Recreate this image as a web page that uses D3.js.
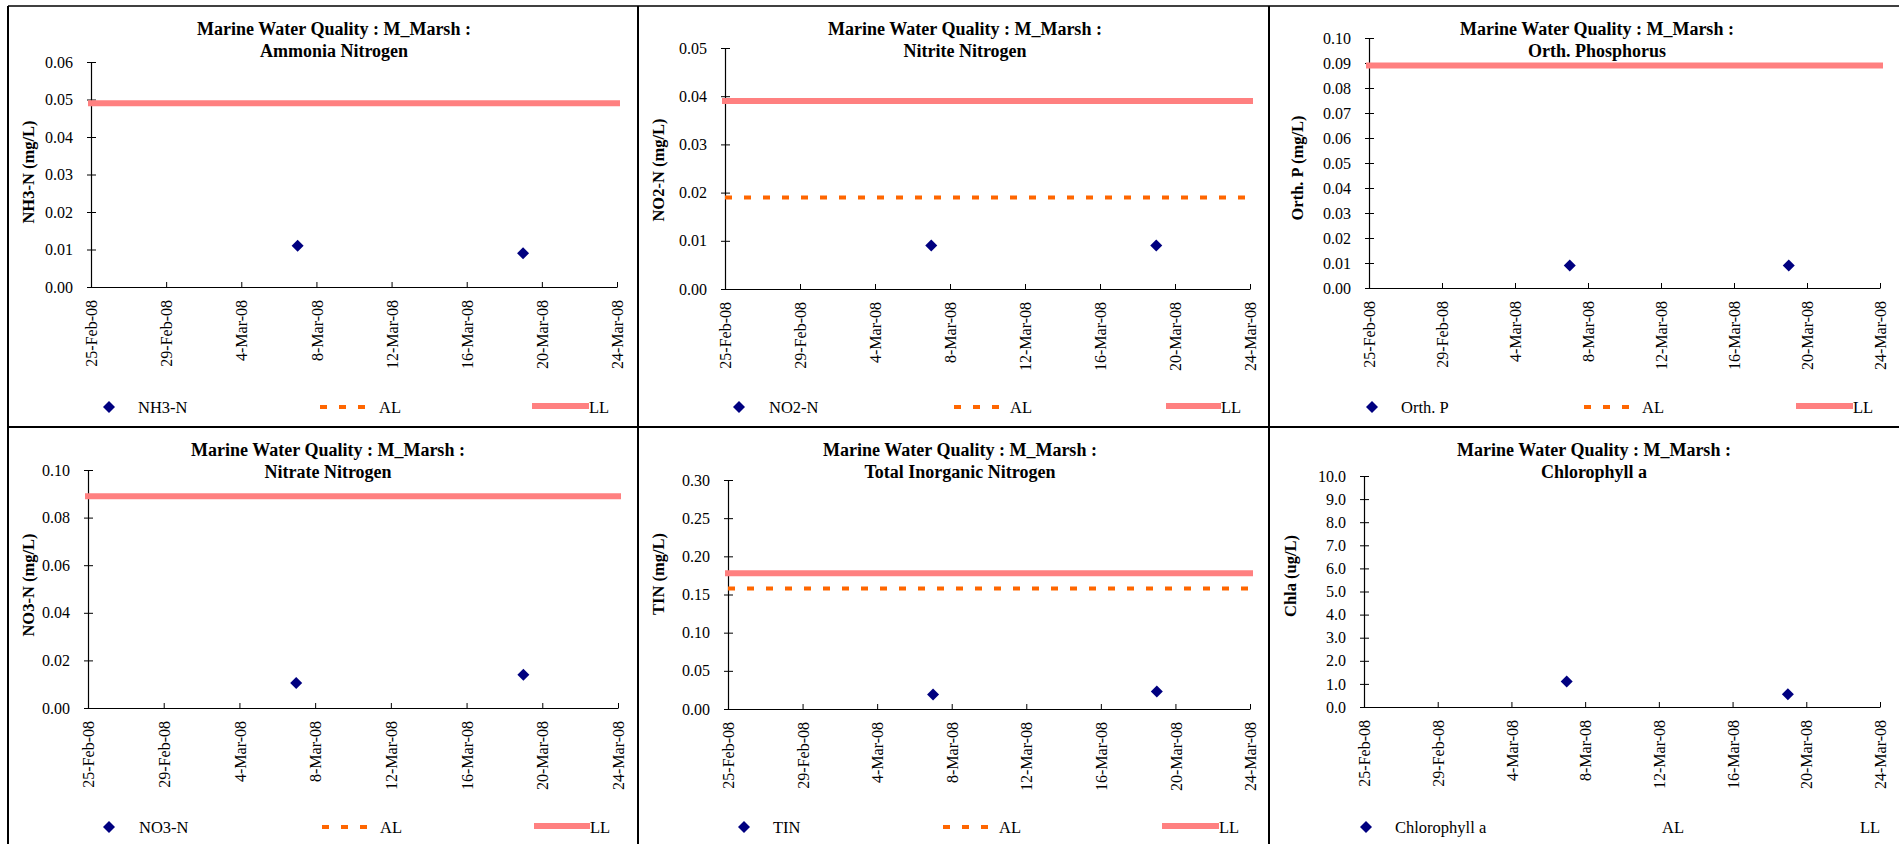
<!DOCTYPE html>
<html lang="en">
<head>
    <meta charset="UTF-8">
    <title>Marine Water Quality : M_Marsh</title>
    <script src="https://cdn.jsdelivr.net/npm/d3@7/dist/d3.min.js"></script>
    <style>
        body { margin: 0; background: #fff; }
        svg { display: block; }
        text { font-family: "Liberation Serif", "Times New Roman", serif; fill: #000; }
    </style>
</head>
<body>
    <svg width="1899" height="844" id="mainsvg"></svg>
    <script>
        // data
        const sampleDates = ["2008-03-07", "2008-03-19"]
        const tickDates = ["2008-02-25", "2008-02-29", "2008-03-04", "2008-03-08",
                           "2008-03-12", "2008-03-16", "2008-03-20", "2008-03-24"]
        const nh3Values = [0.011, 0.009]
        const no2Values = [0.009, 0.009]
        const orthPValues = [0.009, 0.009]
        const no3Values = [0.0105, 0.014]
        const tinValues = [0.019, 0.023]
        const chlaValues = [1.1, 0.55]

        const subTitles = ["Ammonia Nitrogen", "Nitrite Nitrogen", "Orth. Phosphorus",
                           "Nitrate Nitrogen", "Total Inorganic Nitrogen", "Chlorophyll a"]
        const yLabels = ["NH3-N (mg/L)", "NO2-N (mg/L)", "Orth. P (mg/L)",
                         "NO3-N (mg/L)", "TIN (mg/L)", "Chla (ug/L)"]
        const seriesNames = ["NH3-N", "NO2-N", "Orth. P", "NO3-N", "TIN", "Chlorophyll a"]
        const seriesValues = [nh3Values, no2Values, orthPValues, no3Values, tinValues, chlaValues]
        const yMax = [0.06, 0.05, 0.10, 0.10, 0.30, 10]
        const yStep = [0.01, 0.01, 0.01, 0.02, 0.05, 1]
        const yFormat = [".2f", ".2f", ".2f", ".2f", ".2f", ".1f"]
        const alLevels = [null, 0.019, null, null, 0.158, null]
        const llLevels = [0.049, 0.039, 0.089, 0.089, 0.178, null]

        const layout = [
            {x0: 91,   x1: 617,  y0: 62,  y1: 287, tx: 334,  ax: 34,   ay: 172, ly: 407,
             leg: [109, 138, 320, 367, 379, 532, 589, 589]},
            {x0: 725,  x1: 1250, y0: 48,  y1: 289, tx: 965,  ax: 664,  ay: 170, ly: 407,
             leg: [739, 769, 954, 999, 1010, 1166, 1221, 1221]},
            {x0: 1369, x1: 1880, y0: 38,  y1: 288, tx: 1597, ax: 1303, ay: 168, ly: 407,
             leg: [1372, 1401, 1584, 1629, 1642, 1796, 1853, 1853]},
            {x0: 88,   x1: 618,  y0: 470, y1: 708, tx: 328,  ax: 34,   ay: 585, ly: 827,
             leg: [109, 139, 322, 367, 380, 534, 590, 590]},
            {x0: 728,  x1: 1250, y0: 480, y1: 709, tx: 960,  ax: 664,  ay: 574, ly: 827,
             leg: [744, 773, 943, 988, 999, 1162, 1219, 1219]},
            {x0: 1364, x1: 1880, y0: 476, y1: 707, tx: 1594, ax: 1296, ay: 576, ly: 827,
             leg: [1366, 1395, null, null, 1662, null, null, 1860]}
        ]
        const panelTops = [6, 6, 6, 427, 427, 427]

        const parse = d3.timeParse("%Y-%m-%d")
        const fmt = d3.timeFormat("%-d-%b-%y")
        const svg = d3.select("svg")

        const LL_COLOR = "#ff8080"
        const AL_COLOR = "#ff6600"
        const MARK = "#000080"
        const diamond = d3.symbol(d3.symbolSquare, 72)

        // panel frames
        const frame = svg.append("g").attr("stroke", "#000").attr("stroke-width", 2)
        frame.append("line").attr("x1", 8).attr("x2", 1899).attr("y1", 6).attr("y2", 6).attr("stroke-width", 1.5)
        frame.append("line").attr("x1", 8).attr("x2", 1899).attr("y1", 427).attr("y2", 427)
        ;[8, 638, 1269].forEach(x => {
            frame.append("line").attr("x1", x).attr("x2", x).attr("y1", 6).attr("y2", 844)
        })

        layout.forEach((L, i) => {
            const g = svg.append("g")
            const x = d3.scaleTime()
                .domain([parse(tickDates[0]), parse(tickDates[tickDates.length - 1])])
                .range([L.x0, L.x1])
            const y = d3.scaleLinear().domain([0, yMax[i]]).range([L.y1, L.y0])
            const yTicks = d3.range(0, Math.round(yMax[i] / yStep[i]) + 1).map(k => k * yStep[i])

            // title
            const t = g.append("text").attr("text-anchor", "middle")
                .attr("font-weight", "bold").attr("font-size", 18)
            t.append("tspan").attr("x", L.tx).attr("y", panelTops[i] + 29).text("Marine Water Quality : M_Marsh :")
            t.append("tspan").attr("x", L.tx).attr("y", panelTops[i] + 51).text(subTitles[i])

            // y axis
            const yAxis = g.append("g").attr("transform", `translate(${L.x0},0)`)
                .call(d3.axisLeft(y).tickValues(yTicks).tickFormat(d3.format(yFormat[i]))
                    .tickSizeInner(4).tickSizeOuter(0).tickPadding(14))
            yAxis.selectAll(".tick line").attr("x1", 5).attr("x2", -4)
            yAxis.selectAll("text").attr("font-size", 16).attr("font-family", null)
            yAxis.select(".domain").attr("stroke-width", 1.2)

            // x axis
            const xAxis = g.append("g").attr("transform", `translate(0,${L.y1})`)
                .call(d3.axisBottom(x).tickValues(tickDates.map(parse)).tickFormat(fmt)
                    .tickSizeInner(-5).tickSizeOuter(0))
            xAxis.select(".domain").attr("stroke-width", 1.2)
            xAxis.selectAll("text")
                .attr("font-size", 16).attr("font-family", null)
                .attr("text-anchor", "end")
                .attr("transform", "rotate(-90)")
                .attr("x", -13).attr("y", 0).attr("dy", "0.35em")

            // y axis title
            g.append("text").attr("font-weight", "bold").attr("font-size", 16.5)
                .attr("text-anchor", "middle")
                .attr("transform", `translate(${L.ax},${L.ay}) rotate(-90)`)
                .text(yLabels[i])

            // limit lines
            if (alLevels[i] !== null) {
                g.append("line")
                    .attr("x1", x.range()[0]).attr("x2", x.range()[1])
                    .attr("y1", y(alLevels[i])).attr("y2", y(alLevels[i]))
                    .attr("stroke", AL_COLOR).attr("stroke-width", 4)
                    .attr("stroke-dasharray", "7,12")
            }
            if (llLevels[i] !== null) {
                g.append("line")
                    .attr("x1", x.range()[0]).attr("x2", x.range()[1])
                    .attr("y1", y(llLevels[i])).attr("y2", y(llLevels[i]))
                    .attr("stroke", LL_COLOR).attr("stroke-width", 6)
                    .attr("stroke-linecap", "square")
            }

            // sample points
            const pts = sampleDates.map((d, k) => ({date: parse(d), value: seriesValues[i][k]}))
            g.selectAll("path.pt").data(pts).join("path")
                .attr("class", "pt")
                .attr("d", diamond)
                .attr("fill", MARK)
                .attr("transform", d => `translate(${x(d.date)},${y(d.value)}) rotate(45)`)

            // legend
            const [mx, mtx, ax0, ax1, atx, lx0, lx1, ltx] = L.leg
            const lg = g.append("g").attr("font-size", 16.5)
            lg.append("path").attr("d", diamond).attr("fill", MARK)
                .attr("transform", `translate(${mx},${L.ly}) rotate(45)`)
            lg.append("text").attr("x", mtx).attr("y", L.ly).attr("dy", "0.35em").text(seriesNames[i])
            if (ax0 !== null) {
                lg.append("line").attr("x1", ax0).attr("x2", ax1).attr("y1", L.ly).attr("y2", L.ly)
                    .attr("stroke", AL_COLOR).attr("stroke-width", 4).attr("stroke-dasharray", "7,12")
            }
            lg.append("text").attr("x", atx).attr("y", L.ly).attr("dy", "0.35em").text("AL")
            if (lx0 !== null) {
                lg.append("line").attr("x1", lx0).attr("x2", lx1).attr("y1", L.ly - 1).attr("y2", L.ly - 1)
                    .attr("stroke", LL_COLOR).attr("stroke-width", 6)
            }
            lg.append("text").attr("x", ltx).attr("y", L.ly).attr("dy", "0.35em").text("LL")
        })
    </script>
</body>
</html>
